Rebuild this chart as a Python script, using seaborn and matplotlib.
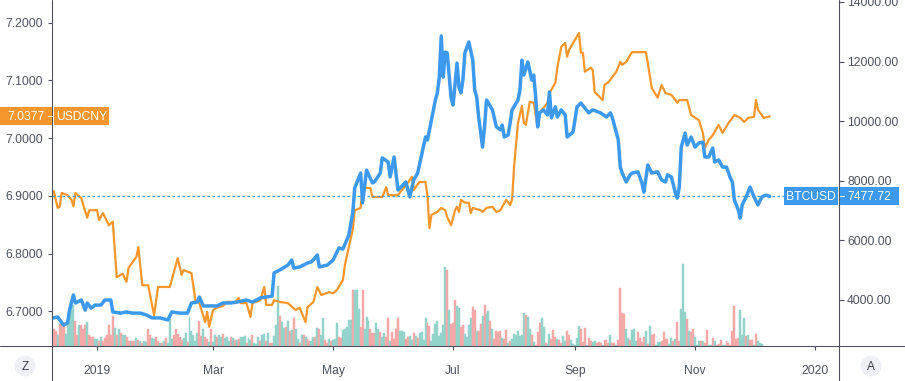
import numpy as np
import pandas as pd
import matplotlib
matplotlib.use("Agg")
import matplotlib.pyplot as plt
import matplotlib.dates as mdates
from matplotlib.patches import Rectangle, Circle
from matplotlib.lines import Line2D
from matplotlib.ticker import FixedLocator, FormatStrFormatter
import seaborn as sns

sns.set_theme(style="white")
plt.rcParams["font.family"] = ["Liberation Sans", "DejaVu Sans"]

# ---------------- data (day offsets from 2019-01-01) ----------------
BASE = pd.Timestamp("2019-01-01")

btc_days = [-22, -20, -17, -15, -14, -12, -11, -8, -6, -5,
            -3, -1, 2, 4, 7, 8, 12, 15, 18, 22,
            25, 28, 32, 36, 38, 42, 46, 48, 51, 52,
            54, 57, 61, 64, 68, 71, 76, 79, 83, 86,
            89, 90, 93, 97, 99, 100, 103, 107, 109, 112,
            113, 117, 120, 123, 125, 128, 130, 131, 134, 135,
            137, 140, 141, 144, 145, 148, 149, 151, 153, 157,
            159, 161, 163, 165, 167, 168, 170, 172, 173, 174,
            175, 176, 177, 178, 180, 181, 183, 184, 185, 186,
            187, 189, 191, 192, 193, 194, 196, 197, 198, 199,
            201, 203, 205, 206, 207, 209, 210, 211, 214, 215,
            216, 217, 219, 221, 222, 223, 224, 225, 227, 229,
            230, 231, 233, 234, 236, 238, 239, 242, 244, 246,
            248, 250, 252, 256, 259, 261, 262, 265, 266, 267,
            269, 271, 272, 275, 277, 278, 280, 282, 285, 287,
            289, 290, 292, 294, 295, 296, 297, 299, 300, 302,
            304, 306, 308, 309, 311, 313, 314, 316, 318, 320,
            322, 323, 324, 326, 327, 328, 330, 332, 334, 336,
            338, 340, 342]
btc_close = [3400, 3430, 3160, 3230, 3660, 4170, 3900, 4000, 3660, 3900,
             3730, 3830, 3830, 4000, 4000, 3600, 3560, 3600, 3560, 3560,
             3500, 3400, 3400, 3330, 3600, 3560, 3560, 3900, 3930, 4100,
             3800, 3800, 3800, 3900, 3900, 3930, 4000, 3930, 4070, 4100,
             4130, 4910, 5010, 5170, 5340, 5070, 5110, 5240, 5280, 5510,
             5110, 5170, 5340, 5750, 5710, 6180, 6920, 7760, 8260, 7260,
             8360, 7930, 7960, 8260, 8770, 8630, 8130, 8800, 7690, 7960,
             7460, 8030, 8260, 8870, 9470, 9370, 10040, 10710, 10950, 11480,
             12860, 11480, 12320, 12290, 10780, 10540, 11950, 11150, 10950, 11380,
             12290, 12660, 12050, 11050, 10810, 10140, 9130, 9810, 10710, 10610,
             10380, 9810, 9710, 9870, 9470, 9540, 9940, 10380, 10710, 11050,
             12050, 11550, 11990, 11380, 11550, 10810, 9810, 10280, 10380, 10210,
             10980, 10110, 10480, 10140, 10380, 10210, 9470, 9640, 10480, 10610,
             10440, 10280, 10380, 10280, 10140, 10280, 10110, 9370, 8460, 8260,
             7960, 8200, 8260, 8300, 7930, 7620, 8530, 8260, 8300, 8030,
             7960, 8200, 8130, 7590, 7420, 7790, 9130, 9600, 9200, 9470,
             9130, 9270, 9300, 8800, 8800, 9100, 8630, 8700, 8460, 8460,
             8090, 7960, 7360, 7020, 6750, 7190, 7460, 7790, 7460, 7190,
             7460, 7520, 7477.72]

cny_days = [-22, -20, -19, -18, -15, -13, -12, -11, -8, -7,
            -5, -4, 0, 1, 3, 6, 8, 9, 10, 13,
            15, 16, 20, 21, 23, 26, 29, 31, 37, 41,
            43, 44, 48, 50, 52, 55, 56, 57, 59, 61,
            64, 66, 69, 70, 72, 73, 76, 78, 79, 83,
            85, 86, 89, 90, 93, 97, 101, 103, 106, 107,
            110, 112, 114, 118, 120, 122, 125, 126, 128, 130,
            131, 134, 135, 139, 140, 145, 147, 148, 153, 155,
            158, 160, 161, 163, 164, 167, 168, 169, 170, 173,
            175, 177, 178, 180, 182, 183, 184, 185, 187, 189,
            190, 191, 195, 196, 198, 201, 203, 205, 208, 210,
            211, 212, 214, 216, 217, 218, 220, 222, 224, 225,
            229, 230, 233, 234, 236, 238, 239, 240, 245, 246,
            247, 248, 251, 252, 253, 257, 258, 260, 262, 264,
            266, 267, 269, 272, 279, 280, 282, 285, 287, 289,
            292, 294, 295, 296, 300, 302, 306, 308, 309, 311,
            313, 314, 316, 318, 321, 323, 324, 327, 329, 331,
            334, 335, 336, 339, 342]
cny_close = [6.908, 6.879, 6.881, 6.905, 6.901, 6.893, 6.882, 6.905, 6.896, 6.884,
             6.862, 6.875, 6.875, 6.858, 6.870, 6.849, 6.855, 6.806, 6.759, 6.765,
             6.751, 6.775, 6.794, 6.811, 6.745, 6.745, 6.693, 6.742, 6.742, 6.792,
             6.763, 6.771, 6.766, 6.719, 6.714, 6.681, 6.699, 6.673, 6.702, 6.706,
             6.709, 6.716, 6.716, 6.714, 6.723, 6.714, 6.714, 6.690, 6.714, 6.719,
             6.742, 6.711, 6.711, 6.719, 6.716, 6.714, 6.702, 6.706, 6.681, 6.707,
             6.716, 6.742, 6.728, 6.733, 6.731, 6.737, 6.754, 6.780, 6.811, 6.841,
             6.875, 6.879, 6.915, 6.913, 6.898, 6.898, 6.915, 6.901, 6.901, 6.910,
             6.922, 6.933, 6.910, 6.920, 6.924, 6.924, 6.898, 6.844, 6.867, 6.872,
             6.879, 6.875, 6.863, 6.849, 6.875, 6.881, 6.872, 6.893, 6.888, 6.888,
             6.870, 6.879, 6.875, 6.872, 6.879, 6.881, 6.872, 6.875, 6.893, 6.884,
             6.893, 6.950, 7.026, 7.056, 7.026, 7.023, 7.063, 7.061, 7.019, 7.044,
             7.061, 7.078, 7.096, 7.122, 7.158, 7.165, 7.141, 7.153, 7.182, 7.148,
             7.148, 7.115, 7.122, 7.118, 7.080, 7.066, 7.092, 7.097, 7.106, 7.115,
             7.132, 7.127, 7.132, 7.149, 7.149, 7.130, 7.087, 7.070, 7.092, 7.078,
             7.075, 7.066, 7.061, 7.066, 7.066, 7.040, 7.031, 7.009, 6.983, 6.997,
             7.005, 7.011, 7.023, 7.009, 7.026, 7.035, 7.040, 7.035, 7.028, 7.035,
             7.037, 7.066, 7.049, 7.035, 7.0377]

# daily volume (arbitrary units) and candle direction (u = up / teal, d = down / red)
vol_start_day = -22
volume = [
    17, 15, 11, 22, 22, 20, 12, 26, 35, 38, 41, 25, 11, 21, 21, 17, 21, 24, 11, 9,
    9, 7, 7, 5, 9, 5, 8, 11, 21, 11, 30, 18, 11, 17, 13, 11, 11, 9, 5, 5,
    5, 5, 8, 6, 5, 3, 5, 4, 17, 11, 8, 7, 9, 5, 3, 3, 5, 8, 3, 27,
    7, 11, 17, 12, 9, 6, 8, 13, 4, 29, 15, 11, 5, 13, 25, 10, 17, 9, 7, 4,
    17, 4, 11, 9, 11, 9, 12, 8, 9, 5, 9, 8, 6,
    6, 7, 9, 9, 10, 3, 8, 6, 11, 3, 2, 9, 5, 11, 12, 5, 13, 3, 3, 10,
    21, 60, 30, 24, 18, 19, 25, 15, 16, 28, 17, 7, 3, 11, 11, 9, 7, 5, 5, 9,
    9, 18, 17, 11, 28, 6, 3, 7, 5, 6, 7, 23, 9, 8, 16, 17, 19, 26, 26, 56,
    56, 56, 37, 19, 56, 17, 29, 25, 17, 13, 13, 23, 17, 14, 9, 13, 9, 28, 5, 14,
    7, 17, 28, 15, 15, 14, 7, 9, 10, 6, 13, 10, 8,
    13, 14, 6, 28, 23, 20, 5, 12, 22, 25, 10, 13, 21, 79, 76, 36, 22, 23, 46, 40,
    38, 19, 21, 12, 9, 21, 28, 39, 36, 15, 15, 22, 30, 41, 32, 35, 25, 17, 7, 15,
    14, 15, 8, 7, 16, 3, 5, 7, 12, 11, 15, 10, 11, 33, 31, 29, 17, 11, 4, 1,
    14, 23, 28, 19, 3, 2, 12, 7, 16, 9, 7, 6, 3, 10, 5, 15, 11, 6, 2, 1,
    8, 20, 17, 4, 18, 1, 8, 5, 4, 5, 3, 4,
    3, 1, 6, 6, 3, 11, 3, 3, 1, 6, 58, 33, 32, 17, 8, 6, 16, 17, 5, 14,
    8, 4, 9, 15, 2, 20, 11, 12, 1, 4, 4, 5, 14, 7, 7, 2, 8, 5, 7, 24,
    5, 37, 82, 34, 27, 15, 14, 17, 9, 1, 5, 5, 5, 3, 16, 1, 1, 8, 5, 1,
    2, 6, 1, 1, 5, 3, 1, 15, 40, 7, 8, 36, 11, 28, 10, 11, 6, 6, 1, 12, 5, 3, 2]
direction = (
    "dduddduuuu" "uddudddudd" "duududdddd" "dududuuddu" "ddududuudd"
    "uuddududuu" "uddddduudu" "uuuudduddu" "duuduuduuud" "ud"
    "uduuuduudu" "uuduududdu" "uuduududud" "uudududduu" "duduuddudu"
    "uudduuuuud" "uuudduuudd" "duuduuddud" "ddduuudduud" "ud"
    "uuuudduuuu" "uuuududddu" "udduuuuddu" "dduduududd" "ddudduduuu"
    "uuuuduudud" "dduuduuddd" "udduudduuu" "uudddudduud" "d"
    "duddduddud" "ddduuduuud" "dddududduu" "udddduudud" "duuududduu"
    "ududduudud" "dduudddddd" "duuududduduu" "u")

# ---------------- layout constants (pixels) ----------------
W, H = 905, 381
L, R, B = 52, 839, 346
AXC = "#50535e"
TXT = "#4c525e"
BLUE = "#3d99ee"
ORANGE = "#f7962c"
TEAL = "#93d3ca"
RED = "#f5a8a8"

fig = plt.figure(figsize=(W / 100, H / 100), dpi=100)
fig.patch.set_facecolor("white")
rect = [L / W, (H - B) / H, (R - L) / W, B / H]
ax_vol = fig.add_axes(rect)
ax = fig.add_axes(rect, sharex=ax_vol)
ax.patch.set_alpha(0)
ax2 = ax.twinx()

x0 = mdates.date2num(BASE + pd.Timedelta(days=-22.9))
x1 = mdates.date2num(BASE + pd.Timedelta(days=377.2))

# volume
vol_dates = [BASE + pd.Timedelta(days=vol_start_day + i) for i in range(len(volume))]
vcols = [TEAL if c == "u" else RED for c in direction[:len(volume)]]
ax_vol.bar(vol_dates, volume, width=1.0, color=vcols, edgecolor=vcols, linewidth=0.35,
           align="center")
ax_vol.set_ylim(0, B)
ax_vol.axis("off")

df_cny = pd.DataFrame({"date": [BASE + pd.Timedelta(days=d) for d in cny_days], "close": cny_close})
df_btc = pd.DataFrame({"date": [BASE + pd.Timedelta(days=d) for d in btc_days], "close": btc_close})

sns.lineplot(data=df_cny, x="date", y="close", ax=ax, color=ORANGE, linewidth=1.6,
             estimator=None, sort=False)
sns.lineplot(data=df_btc, x="date", y="close", ax=ax2, color=BLUE, linewidth=2.5,
             estimator=None, sort=False)

ax.set_xlim(x0, x1)
ax.set_ylim(7.2 - (B - 22.7) / 577, 7.2 + 22.7 / 577)
ax2.set_ylim(4000 - (B - 300) * 2000 / 59.6, 4000 + 300 * 2000 / 59.6)

for a in (ax, ax2):
    for s in a.spines.values():
        s.set_visible(False)
    a.set_xlabel("")
    a.set_ylabel("")
    a.grid(False)

ax.yaxis.set_major_locator(FixedLocator([6.7, 6.8, 6.9, 7.0, 7.1, 7.2]))
ax.yaxis.set_major_formatter(FormatStrFormatter("%.4f"))
ax.tick_params(axis="y", left=True, length=3, width=0.8, color=AXC, pad=3.4,
               labelsize=8.7, labelcolor=TXT)
ax2.yaxis.set_major_locator(FixedLocator([4000, 6000, 8000, 10000, 12000, 14000]))
ax2.yaxis.set_major_formatter(FormatStrFormatter("%.2f"))
ax2.tick_params(axis="y", right=True, length=3.6, width=0.8, color=AXC, pad=2.2,
                labelsize=8.7, labelcolor=TXT)

xt = [pd.Timestamp(s) for s in ["2019-01-01", "2019-03-01", "2019-05-01", "2019-07-01",
                                "2019-09-01", "2019-11-01", "2020-01-01"]]
xl = ["2019", "Mar", "May", "Jul", "Sep", "Nov", "2020"]
ax.set_xticks(xt)
ax.set_xticklabels(xl)
ax.tick_params(axis="x", bottom=True, length=3, width=0.8, color=AXC, pad=10.5,
               labelsize=8.7, labelcolor=TXT)
ax2.tick_params(axis="x", bottom=False, labelbottom=False)

# last-price dotted line
ax2.axhline(7477.72, xmin=0, xmax=(784 - L) / (R - L), color=BLUE, lw=0.9,
            ls=(0, (2, 2)))

# figure-level frame lines
T = fig.dpi_scale_trans
def P(x, y):
    return x / 100, (H - y) / 100

for (xa, ya), (xb, yb) in [((L, 0), (L, H)), ((R, 0), (R, H)), ((0, B), (W, B))]:
    pa, pb = P(xa, ya), P(xb, yb)
    fig.add_artist(Line2D([pa[0], pb[0]], [pa[1], pb[1]], transform=T, color=AXC, lw=0.8))

fig.canvas.draw()

def ypix(a, v):
    return H - a.transData.transform((x0, v))[1]

def box(xl_, xr_, yc, color, text, zo=10):
    h = 18
    fig.add_artist(Rectangle(P(xl_, yc + h / 2), (xr_ - xl_) / 100, h / 100,
                             transform=T, color=color, lw=0, zorder=zo))
    fig.text((xl_ + xr_) / 2 / W, 1 - (yc + 0.5) / H, text, ha="center", va="center",
             color="white", fontsize=8.7, zorder=zo + 1)

y_cny = ypix(ax, 7.0377)
y_btc = ypix(ax2, 7477.72)
box(0, 52, y_cny, ORANGE, "7.0377")
box(54, 109, y_cny, ORANGE, "USDCNY")
fig.add_artist(Line2D([48 / 100, 52 / 100], [(H - y_cny) / 100] * 2, transform=T,
                      color="white", lw=0.8, zorder=12))
box(784, 838, y_btc, BLUE, "BTCUSD")
box(840, 899, y_btc, BLUE, "7477.72")
fig.add_artist(Line2D([840 / 100, 844 / 100], [(H - y_btc) / 100] * 2, transform=T,
                      color="white", lw=0.8, zorder=12))

# bottom corner buttons
for cx, s in [(25, "Z"), (871, "A")]:
    fig.add_artist(Circle(P(cx, 366), 0.105, transform=T, color="#eef0f5", lw=0, zorder=5))
    fig.text(cx / W, 1 - 366.5 / H, s, ha="center", va="center", color="#3b3e47",
             fontsize=8.5, zorder=6)

fig.savefig("out.png", dpi=100)
